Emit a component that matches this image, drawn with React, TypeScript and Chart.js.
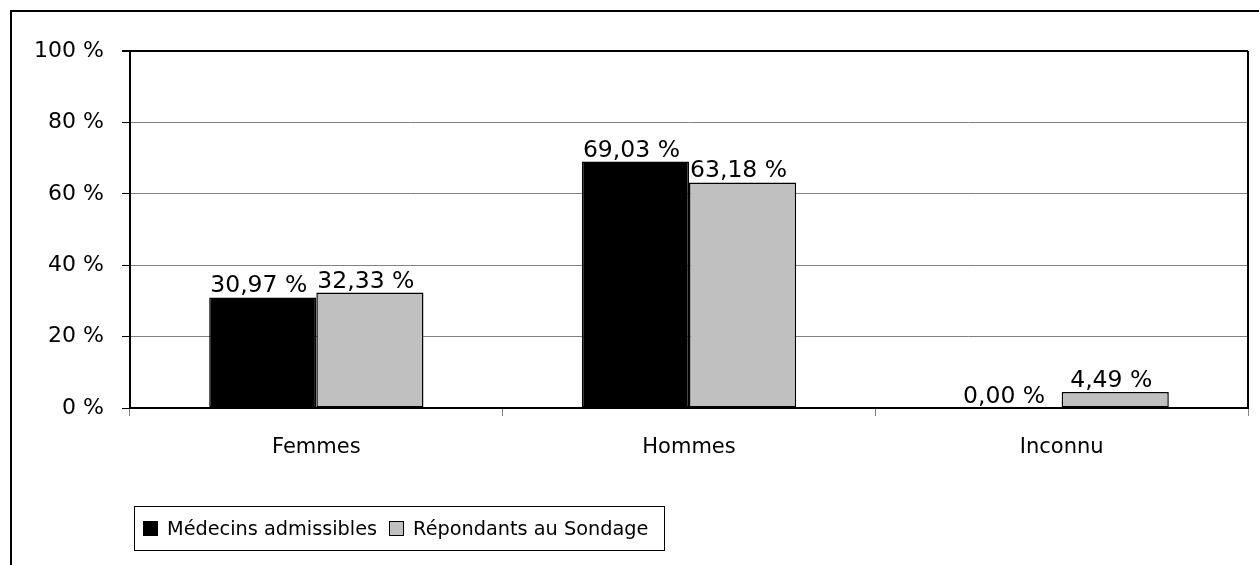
import React, { useEffect, useRef } from "react";
import { Chart, registerables } from "chart.js";

Chart.register(...registerables);

const categories = ["Femmes", "Hommes", "Inconnu"];
const medecins = [30.97, 69.03, 0.0];
const repondants = [32.33, 63.18, 4.49];
const seriesNames = ["Médecins admissibles", "Répondants au Sondage"];
const seriesColors = ["#000000", "#c0c0c0"];
const yMin = 0;
const yMax = 100;
const yStep = 20;

const FONT = "'DejaVu Sans', Verdana, sans-serif";

const fmt = (v: number) => v.toFixed(2).replace(".", ",") + " %";

const labelPlugin = {
  id: "barLabels",
  afterDatasetsDraw(chart: any) {
    const ctx = chart.ctx;
    ctx.save();
    ctx.font = `23.5px ${FONT}`;
    ctx.fillStyle = "#000";
    ctx.textAlign = "center";
    ctx.textBaseline = "alphabetic";
    chart.data.datasets.forEach((ds: any, di: number) => {
      const meta = chart.getDatasetMeta(di);
      meta.data.forEach((el: any, i: number) => {
        ctx.fillText(fmt(ds.data[i]), el.x - 4, el.y - 5);
      });
    });
    ctx.restore();
  },
};

const framePlugin = {
  id: "frame",
  afterDraw(chart: any) {
    const { ctx, chartArea } = chart;
    ctx.save();
    ctx.strokeStyle = "#000";
    ctx.lineWidth = 2;
    ctx.beginPath();
    ctx.moveTo(chartArea.right, chartArea.top);
    ctx.lineTo(chartArea.right, chartArea.bottom);
    ctx.stroke();
    ctx.restore();
  },
};

export default function App() {
  const canvasRef = useRef<HTMLCanvasElement | null>(null);

  useEffect(() => {
    if (!canvasRef.current) return;
    const chart = new Chart(canvasRef.current, {
      type: "bar",
      data: {
        labels: categories,
        datasets: [
          {
            label: seriesNames[0],
            data: medecins,
            backgroundColor: seriesColors[0],
            borderColor: "#000",
            borderWidth: 1.5,
            borderSkipped: false,
            categoryPercentage: 0.575,
            barPercentage: 1,
          },
          {
            label: seriesNames[1],
            data: repondants,
            backgroundColor: seriesColors[1],
            borderColor: "#000",
            borderWidth: 1.5,
            borderSkipped: false,
            categoryPercentage: 0.575,
            barPercentage: 1,
          },
        ],
      },
      options: {
        responsive: false,
        animation: false,
        layout: { padding: { top: 51, right: 11, left: 0, bottom: 0 } },
        plugins: {
          legend: { display: false },
          tooltip: { enabled: false },
          title: { display: false },
        },
        scales: {
          x: {
            grid: {
              display: true,
              drawOnChartArea: false,
              offset: true,
              tickLength: 8,
              color: "#808080",
              tickColor: "#808080",
            },
            border: { color: "#000", width: 2 },
            ticks: {
              color: "#000",
              font: { family: FONT, size: 21 },
              padding: 19,
            },
            afterFit(scale: any) {
              scale.height = 157;
            },
          },
          y: {
            min: yMin,
            max: yMax,
            ticks: {
              stepSize: yStep,
              color: "#000",
              font: { family: FONT, size: 22 },
              padding: 18,
              callback: (v: any) => `${v} %`,
            },
            grid: {
              tickLength: 8,
              color: (ctx: any) => (ctx.tick && ctx.tick.value === yMax ? "#000" : "#808080"),
              lineWidth: (ctx: any) => (ctx.tick && ctx.tick.value === yMax ? 2 : 1),
              tickColor: "#000",
            },
            border: { color: "#000", width: 2 },
            afterFit(scale: any) {
              scale.width = 130;
            },
          },
        },
      },
      plugins: [labelPlugin, framePlugin],
    });
    return () => chart.destroy();
  }, []);

  return (
    <div
      style={{
        position: "fixed",
        left: 0,
        top: 0,
        width: 1259,
        height: 565,
        overflow: "hidden",
        background: "#fff",
      }}
    >
      <div
        style={{
          position: "absolute",
          left: 10,
          top: 10,
          width: 1400,
          height: 700,
          border: "2px solid #000",
        }}
      />
      <canvas
        ref={canvasRef}
        width={1259}
        height={565}
        style={{ position: "absolute", left: 0, top: 0, width: 1259, height: 565 }}
      />
      <div
        style={{
          position: "absolute",
          left: 134,
          top: 506,
          width: 531,
          height: 45,
          boxSizing: "border-box",
          border: "1px solid #000",
          display: "flex",
          alignItems: "center",
          paddingLeft: 8,
          fontFamily: FONT,
          fontSize: 19.3,
          color: "#000",
          whiteSpace: "nowrap",
        }}
      >
        {seriesNames.map((name, i) => (
          <div key={name} style={{ display: "flex", alignItems: "center", marginRight: 12 }}>
            <span
              style={{
                display: "inline-block",
                width: 15,
                height: 15,
                boxSizing: "border-box",
                background: seriesColors[i],
                border: "1px solid #000",
                marginRight: 9,
              }}
            />
            <span>{name}</span>
          </div>
        ))}
      </div>
    </div>
  );
}
